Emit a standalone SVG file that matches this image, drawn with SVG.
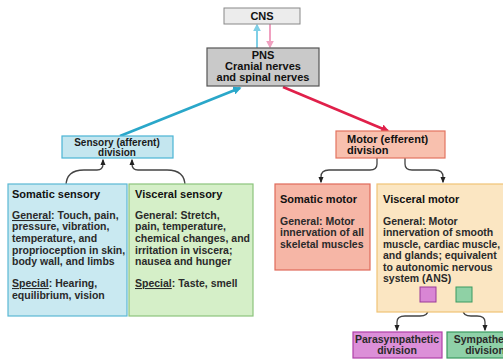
<svg xmlns="http://www.w3.org/2000/svg" width="503" height="364" viewBox="0 0 503 364">
<style>
text{font-family:"Liberation Sans",Arial,sans-serif;font-weight:bold;fill:#222;}
.t{font-size:11px;fill:#111;}
.b{font-size:10.5px;fill:#2a2a2a;}
.s{font-size:10px;fill:#1a1a1a;}
.c{text-anchor:middle;}
.u{text-decoration:underline;}
.conn{fill:none;stroke:#444;stroke-width:1.3;}
</style>
<defs>
<marker id="ak" viewBox="0 0 10 10" refX="8" refY="5" markerWidth="5" markerHeight="5" orient="auto"><path d="M0,1 L10,5 L0,9 z" fill="#222"/></marker>
<marker id="ab" viewBox="0 0 10 10" refX="8" refY="5" markerWidth="3.2" markerHeight="3.2" orient="auto"><path d="M0,0 L10,5 L0,10 z" fill="#2aa7c9"/></marker>
<marker id="ar" viewBox="0 0 10 10" refX="8" refY="5" markerWidth="3.2" markerHeight="3.2" orient="auto"><path d="M0,0 L10,5 L0,10 z" fill="#e0204a"/></marker>
<marker id="ac" viewBox="0 0 10 10" refX="8" refY="5" markerWidth="4" markerHeight="4" orient="auto"><path d="M0,0 L10,5 L0,10 z" fill="#7fcfe6"/></marker>
<marker id="ap" viewBox="0 0 10 10" refX="8" refY="5" markerWidth="4" markerHeight="4" orient="auto"><path d="M0,0 L10,5 L0,10 z" fill="#f0a0c0"/></marker>
</defs>
<g id="connectors">
<line x1="257" y1="48" x2="257" y2="25" stroke="#7fcfe6" stroke-width="2" marker-end="url(#ac)"/>
<line x1="270" y1="24" x2="270" y2="47" stroke="#f0a0c0" stroke-width="2" marker-end="url(#ap)"/>
<line x1="120" y1="136" x2="240" y2="88" stroke="#2aa7c9" stroke-width="2.6" marker-end="url(#ab)"/>
<line x1="283" y1="87" x2="388" y2="131" stroke="#e0204a" stroke-width="2.6" marker-end="url(#ar)"/>
<path class="conn" d="M66,186 Q66,170 84,170 L97,170 Q103,170 103,164 L103,160" marker-end="url(#ak)"/>
<path class="conn" d="M185,186 Q185,170 167,170 L138,170 Q132,170 132,164 L132,160" marker-end="url(#ak)"/>
<path class="conn" d="M377,158 L377,164 Q377,170 370,170 L329,170 Q321,170 321,177 L321,182" marker-end="url(#ak)"/>
<path class="conn" d="M405,158 L405,164 Q405,170 412,170 L435,170 Q443,170 443,177 L443,182" marker-end="url(#ak)"/>
<path class="conn" d="M428,300 L428,310 Q428,316 420,316 L405,316 Q397,316 397,322 L397,330" marker-end="url(#ak)"/>
<path class="conn" d="M463,300 L463,310 Q463,316 471,316 L477,316 Q485,316 485,322 L485,330" marker-end="url(#ak)"/>
</g>
<g id="cns">
<rect x="224" y="8" width="76" height="16" fill="#ececec" stroke="#888" stroke-width="1"/>
<text class="t c" x="262" y="20">CNS</text>
</g>
<g id="pns">
<rect x="207" y="48" width="112" height="38" fill="#c9c9c9" stroke="#555" stroke-width="1.2"/>
<text class="t c" x="263" y="59">PNS</text>
<text class="t c" x="263" y="70">Cranial nerves</text>
<text class="t c" x="263" y="81">and spinal nerves</text>
</g>
<g id="sensory">
<rect x="62" y="136" width="111" height="22" fill="#c4e6ef" stroke="#4ab4d4" stroke-width="1.2"/>
<text class="s c" x="117" y="145.5">Sensory (afferent)</text>
<text class="s c" x="117" y="155.5">division</text>
</g>
<g id="motor">
<rect x="336" y="131" width="109" height="27" fill="#f8c0ae" stroke="#e3735f" stroke-width="1.2"/>
<text class="t" x="347" y="143">Motor (efferent)</text>
<text class="t" x="347" y="154">division</text>
</g>
<g id="somatic-sensory">
<rect x="8" y="184" width="119" height="132" fill="#c9e9f1" stroke="#5ab8d4" stroke-width="1.2"/>
<text class="t" x="12" y="198">Somatic sensory</text>
<text class="b" x="12" y="219"><tspan class="u">General</tspan>: Touch, pain,</text>
<text class="b" x="12" y="230">pressure, vibration,</text>
<text class="b" x="12" y="242">temperature, and</text>
<text class="b" x="12" y="254">proprioception in skin,</text>
<text class="b" x="12" y="265">body wall, and limbs</text>
<text class="b" x="12" y="287"><tspan class="u">Special</tspan>: Hearing,</text>
<text class="b" x="12" y="299">equilibrium, vision</text>
</g>
<g id="visceral-sensory">
<rect x="129" y="184" width="124" height="132" fill="#d5efc8" stroke="#8cc47c" stroke-width="1.2"/>
<text class="t" x="135" y="198">Visceral sensory</text>
<text class="b" x="135" y="219">General: Stretch,</text>
<text class="b" x="135" y="230">pain, temperature,</text>
<text class="b" x="135" y="242">chemical changes, and</text>
<text class="b" x="135" y="254">irritation in viscera;</text>
<text class="b" x="135" y="265">nausea and hunger</text>
<text class="b" x="135" y="287"><tspan class="u">Special</tspan>: Taste, smell</text>
</g>
<g id="somatic-motor">
<rect x="275" y="184" width="95" height="86" fill="#f6b6a6" stroke="#e06a5a" stroke-width="1.2"/>
<text class="t" x="280" y="203">Somatic motor</text>
<text class="b" x="280" y="225">General: Motor</text>
<text class="b" x="280" y="236">innervation of all</text>
<text class="b" x="280" y="248">skeletal muscles</text>
</g>
<g id="visceral-motor">
<rect x="377" y="184" width="130" height="128" fill="#fbe6c2" stroke="#f0c476" stroke-width="1.2"/>
<text class="t" x="383" y="203">Visceral motor</text>
<text class="b" x="383" y="225">General: Motor</text>
<text class="b" x="383" y="236">innervation of smooth</text>
<text class="b" x="383" y="248" textLength="117" lengthAdjust="spacingAndGlyphs">muscle, cardiac muscle,</text>
<text class="b" x="383" y="259">and glands; equivalent</text>
<text class="b" x="383" y="271">to autonomic nervous</text>
<text class="b" x="383" y="282">system (ANS)</text>
<rect x="420" y="287" width="16" height="15" fill="#d986d4" stroke="#9a3a98" stroke-width="1"/>
<rect x="456" y="287" width="16" height="15" fill="#8fd1a5" stroke="#3a9a60" stroke-width="1"/>
</g>
<g id="parasympathetic">
<rect x="353" y="332" width="89" height="26" fill="#dc8fd8" stroke="#b040a8" stroke-width="1.2"/>
<text class="b c" x="397" y="343">Parasympathetic</text>
<text class="b c" x="397" y="354">division</text>
</g>
<g id="sympathetic">
<rect x="447" y="332" width="60" height="26" fill="#8fd1a8" stroke="#3a9a60" stroke-width="1.2"/>
<text class="b c" x="485" y="343">Sympathetic</text>
<text class="b c" x="485" y="354">division</text>
</g>
</svg>
